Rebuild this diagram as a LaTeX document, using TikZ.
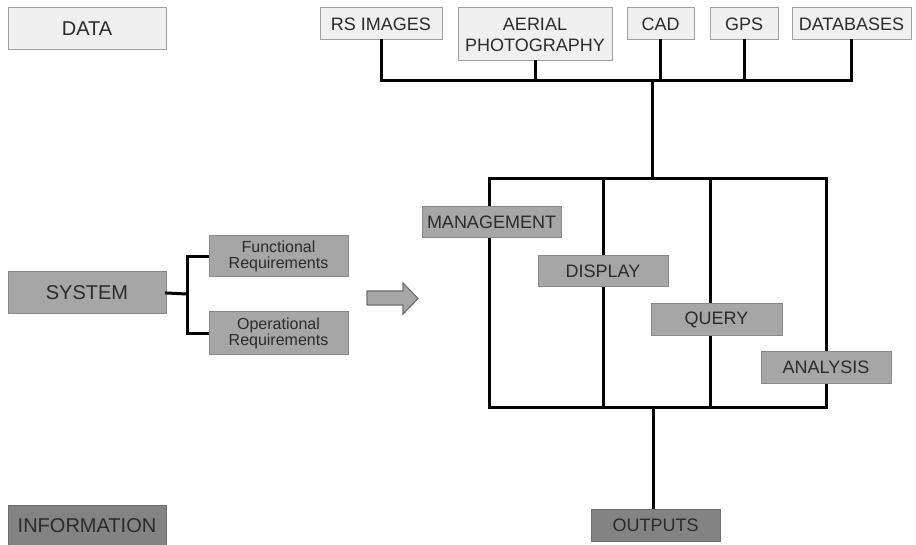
\documentclass[tikz,border=0pt]{standalone}
\usepackage{fontspec}
\setmainfont{Liberation Sans}
\begin{document}
\definecolor{boxlight}{HTML}{F0F0F0}
\definecolor{edgelight}{HTML}{A0A0A0}
\definecolor{boxmid}{HTML}{A6A6A6}
\definecolor{edgemid}{HTML}{8A8A8A}
\definecolor{boxdark}{HTML}{838383}
\definecolor{edgedark}{HTML}{6E6E6E}
\definecolor{ink}{HTML}{2B2B2B}
\tikzset{
  box/.style={rectangle, inner sep=0pt, line width=1pt, align=center,
    text=ink, font=\fontsize{18}{21}\selectfont},
  srcbox/.style={box, fill=boxlight, draw=edgelight},
  modbox/.style={box, fill=boxmid, draw=edgemid},
  outbox/.style={box, fill=boxdark, draw=edgedark},
  bigtext/.style={font=\fontsize{20}{24}\selectfont},
  smalltext/.style={font=\fontsize{16}{16.5}\selectfont},
  wire/.style={line width=3pt, line cap=rect, black},
}
\begin{tikzpicture}[x=1pt, y={(0pt,-1pt)}]
\useasboundingbox (0,0) rectangle (916,545);

% system frame with its three dividers
\coordinate (ftl) at (489,179);
\coordinate (fbr) at (826,407);
\coordinate (d1) at (603,179);
\coordinate (d2) at (710,179);
\draw[wire, line join=miter] (ftl) rectangle (fbr);
\draw[wire] (d1) -- (d1 |- fbr);
\draw[wire] (d2) -- (d2 |- fbr);

% row labels on the left
\node[srcbox, bigtext, minimum width=158, minimum height=42] (data) at (87,29) {DATA};
\node[modbox, bigtext, minimum width=158, minimum height=42] (system) at (87,293) {SYSTEM};
\node[outbox, bigtext, minimum width=158, minimum height=42] (info) at (87,526) {INFORMATION};

% data sources
\node[srcbox, minimum width=122, minimum height=32] (rs) at (381,24) {RS IMAGES};
\node[srcbox, minimum width=154, minimum height=53] (aerial) at (535,34.5) {AERIAL\\PHOTOGRAPHY};
\node[srcbox, minimum width=67, minimum height=32] (cad) at (660.5,24) {CAD};
\node[srcbox, minimum width=68, minimum height=32] (gps) at (744,24) {GPS};
\node[srcbox, minimum width=119, minimum height=32] (db) at (851.5,24) {DATABASES};

% requirements
\node[modbox, smalltext, minimum width=139, minimum height=41] (func) at (278.5,256.5) {Functional\\Requirements};
\node[modbox, smalltext, minimum width=139, minimum height=43] (oper) at (278.5,333.5) {Operational\\Requirements};

% system functions
\node[modbox, minimum width=139, minimum height=31] (mgmt) at (491.5,222.5) {MANAGEMENT};
\node[modbox, minimum width=130, minimum height=31] (disp) at (603,271.5) {DISPLAY};
\node[modbox, minimum width=131, minimum height=32] (query) at (716.5,320) {QUERY};
\node[modbox, minimum width=130, minimum height=31] (anal) at (826,367.5) {ANALYSIS};

% output
\node[outbox, minimum width=129, minimum height=32] (out) at (655.5,525) {OUTPUTS};

% data bus into the frame
\coordinate (bus) at (652,81);
\coordinate (ftop) at (652,179);
\coordinate (fbot) at (653,407);
\draw[wire] (rs.south) |- (bus) -| (db.south);
\draw[wire] (aerial.south) -- (aerial.south |- bus);
\draw[wire] (cad.south) -- (cad.south |- bus);
\draw[wire] (gps.south) -- (gps.south |- bus);
\draw[wire] (bus) -- (ftop);
\draw[wire, line cap=butt] (fbot) -- (fbot |- out.north);

% system split into requirements
\coordinate (fork) at (187,294);
\draw[wire] (system.east) -- (fork);
\draw[wire, line cap=butt] (func.west) -| (fork) |- (oper.west);

% block arrow towards the frame
\draw[fill=boxmid, draw=edgedark, line width=1.2pt, line join=miter]
  (367,291) -- (403,291) -- (403,283) -- (418,298.5) -- (403,314)
  -- (403,305) -- (367,305) -- cycle;
\end{tikzpicture}
\end{document}
